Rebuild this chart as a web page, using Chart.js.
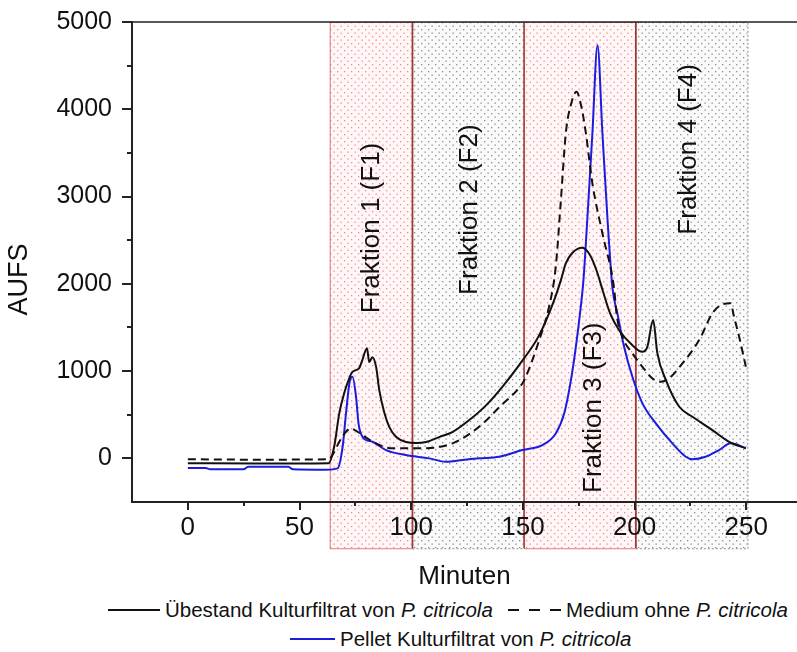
<!DOCTYPE html>
<html>
<head>
<meta charset="utf-8">
<script src="https://cdn.jsdelivr.net/npm/chart.js@4.4.1/dist/chart.umd.min.js"></script>
<style>
  html, body { margin: 0; padding: 0; background: #fff; }
  #wrap { position: relative; width: 797px; height: 652px; overflow: hidden; }
  #chart { display: block; }
  .item { position: absolute; display: flex; align-items: center; white-space: nowrap;
          font: 20.5px "Liberation Sans", Arial, sans-serif; color: #111; line-height: 24px; }
  .swatch { display: inline-block; height: 2px; margin-right: 5px; }
</style>
</head>
<body>
<div id="wrap">
  <canvas id="chart" width="797" height="595"></canvas>
  <div class="item" style="left:108px; top:598px;"><span class="swatch" style="width:52px; background:#111;"></span>Übestand Kulturfiltrat von&nbsp;<i>P. citricola</i></div>
  <div class="item" style="left:508px; top:598px;"><span class="swatch" style="width:53px; background:repeating-linear-gradient(90deg,#111 0 11px,transparent 11px 21px);"></span>Medium ohne&nbsp;<i>P. citricola</i></div>
  <div class="item" style="left:290px; top:627px;"><span class="swatch" style="width:45px; background:#1c1ce0;"></span>Pellet Kulturfiltrat von&nbsp;<i>P. citricola</i></div>
</div>
<script>
// Übestand Kulturfiltrat (black solid)
const ubX = [0, 30, 63, 65.5, 67.8, 70, 72.3, 73.6, 76.7, 78.1, 80.2, 81.2, 82.6, 84.3, 85.7, 88, 90.2, 93.3, 97.8, 102.2, 106.7, 112.5, 118.4, 126, 133.6, 140.7, 148.3, 157.3, 164, 167, 169.2, 172, 176.6, 180, 183, 186, 189, 193, 199, 203.4, 205.7, 208.3, 210.2, 214, 220, 225.9, 234.8, 242.3, 249.8];
const ubY = [-55, -60, -55, 133, 519, 748, 920, 988, 1034, 1126, 1263, 1103, 1160, 1046, 782, 519, 358, 244, 187, 175, 187, 244, 301, 439, 610, 817, 1069, 1412, 1813, 2042, 2234, 2350, 2412, 2330, 2150, 1900, 1664, 1470, 1297, 1221, 1278, 1584, 1203, 897, 591, 477, 324, 190, 115];

// Medium ohne P. citricola (black dashed)
const medX = [0, 30, 63, 65, 68, 71, 73, 75, 78.2, 84.2, 91.6, 103.6, 118.5, 130.4, 140, 148, 150.6, 157.3, 161.7, 164.7, 167, 169.2, 172, 174, 176, 178.2, 181.1, 185.6, 190.8, 192, 194.5, 199, 203.5, 208, 211.7, 215.4, 221.4, 228.9, 234.8, 238.6, 243, 244.5, 246.8, 249.8];
const medY = [-10, -15, -10, 50, 200, 310, 344, 320, 267, 172, 115, 115, 172, 362, 600, 800, 897, 1355, 1737, 2195, 2959, 3723, 4100, 4200, 4050, 3723, 3150, 2577, 1950, 1640, 1393, 1203, 1049, 916, 877, 916, 1088, 1355, 1661, 1756, 1776, 1622, 1393, 1049];

// Pellet Kulturfiltrat (blue)
const pelX = [0, 8, 10, 25, 27, 45, 47, 62, 67, 69.3, 70.8, 72.6, 73.7, 75.3, 76.4, 78.2, 82.7, 88.7, 97.6, 108, 115.5, 123, 130.4, 139.4, 149.8, 158.7, 164.7, 168.5, 171.5, 173.7, 175.9, 177.1, 178.9, 181.1, 183.4, 185.6, 187.8, 190.1, 192.3, 195.3, 199, 203.5, 209.5, 216.9, 222.9, 225.9, 231.8, 237.8, 243, 249.8];
const pelY = [-110, -110, -125, -125, -95, -95, -125, -130, -115, 133, 516, 897, 935, 706, 401, 247, 190, 95, 38, 0, -39, -19, 0, 18, 95, 152, 286, 516, 897, 1278, 1737, 2042, 2768, 3723, 4734, 3723, 2768, 1950, 1661, 1278, 935, 630, 401, 172, 18, -11, 18, 95, 172, 118];

// Fraktionen (Minuten)
const fracStart = [63.5, 100.5, 150.5, 200.5];
const fracEnd = [100.5, 150.5, 200.5, 250.5];
const fracLabels = ["Fraktion 1 (F1)", "Fraktion 2 (F2)", "Fraktion 3 (F3)", "Fraktion 4 (F4)"];

// tick labels
const xTicks = [0, 25, 50, 75, 100, 125, 150, 175, 200, 225, 250];
const yTicks = [0, 500, 1000, 1500, 2000, 2500, 3000, 3500, 4000, 4500, 5000];

const FONT = "'Liberation Sans', Arial, sans-serif";
Chart.defaults.font.family = FONT;
Chart.defaults.color = "#111";

function pts(xs, ys) {
  return xs.map((x, i) => ({ x: x, y: ys[i] }));
}

function dotPattern(bg, dot) {
  const c = document.createElement("canvas");
  c.width = 7; c.height = 7;
  const g = c.getContext("2d");
  g.fillStyle = bg;
  g.fillRect(0, 0, 7, 7);
  g.fillStyle = dot;
  g.fillRect(1, 1, 1.3, 1.3);
  g.fillRect(4.5, 4.5, 1.3, 1.3);
  return c;
}

// label anchor for each fraction: [minutes, AUFS]
const labelAt = [[82.2, 2640], [126.4, 2850], [181.9, 580], [224.4, 3540]];

const fractions = {
  id: "fractions",
  beforeDraw(chart) {
    const { ctx, scales: { x, y } } = chart;
    ctx.save();
    ctx.fillStyle = "#fff";
    ctx.fillRect(0, 0, chart.width, chart.height);
    const top = y.getPixelForValue(5000);
    const bot = y.getPixelForValue(-1030);
    const red = ctx.createPattern(dotPattern("#fff7f7", "rgba(232,95,95,0.7)"), "repeat");
    const gray = ctx.createPattern(dotPattern("#fafafa", "rgba(95,95,95,0.7)"), "repeat");
    // gray ones first, red ones on top
    [1, 3, 0, 2].forEach(i => {
      const l = x.getPixelForValue(fracStart[i]);
      const r = x.getPixelForValue(fracEnd[i]);
      const isRed = i % 2 === 0;
      ctx.fillStyle = isRed ? red : gray;
      ctx.fillRect(l, top, r - l, bot - top);
      ctx.lineWidth = 1;
      if (isRed) {
        ctx.setLineDash([]);
        ctx.strokeStyle = "rgba(215,90,90,0.8)";
      } else {
        ctx.setLineDash([2, 2]);
        ctx.strokeStyle = "rgba(110,110,110,0.8)";
      }
      ctx.strokeRect(l + 0.5, top + 0.5, r - l, bot - top);
    });
    ctx.setLineDash([]);
    // darker boundaries between fractions
    ctx.strokeStyle = "#9c3a3a";
    ctx.lineWidth = 1.5;
    [fracEnd[0], fracEnd[1], fracEnd[2]].forEach(v => {
      const px = x.getPixelForValue(v);
      ctx.beginPath();
      ctx.moveTo(px, top);
      ctx.lineTo(px, bot);
      ctx.stroke();
    });
    ctx.restore();
  },
  afterDatasetsDraw(chart) {
    const { ctx, scales: { x, y } } = chart;
    ctx.save();
    ctx.font = "26px " + FONT;
    ctx.fillStyle = "#111";
    ctx.textAlign = "center";
    ctx.textBaseline = "middle";
    fracLabels.forEach((t, i) => {
      ctx.save();
      ctx.translate(x.getPixelForValue(labelAt[i][0]), y.getPixelForValue(labelAt[i][1]));
      ctx.rotate(-Math.PI / 2);
      ctx.fillText(t, 0, 0);
      ctx.restore();
    });
    ctx.restore();
  },
  afterDraw(chart) {
    const { ctx, chartArea: a, scales: { x, y } } = chart;
    ctx.save();
    ctx.strokeStyle = "#222";
    ctx.lineWidth = 1.5;
    ctx.beginPath();
    ctx.moveTo(a.left, a.top);
    ctx.lineTo(a.right, a.top);
    ctx.stroke();
    ctx.lineWidth = 2;
    xTicks.forEach(v => {
      const px = Math.round(x.getPixelForValue(v));
      const len = v % 50 === 0 ? 8 : 4;
      ctx.beginPath();
      ctx.moveTo(px, a.bottom);
      ctx.lineTo(px, a.bottom + len);
      ctx.stroke();
    });
    yTicks.forEach(v => {
      const py = Math.round(y.getPixelForValue(v));
      const len = v % 1000 === 0 ? 10 : 5;
      ctx.beginPath();
      ctx.moveTo(a.left, py);
      ctx.lineTo(a.left - len, py);
      ctx.stroke();
    });
    // y axis title, sitting a little below the middle as in the original
    ctx.font = "27px " + FONT;
    ctx.fillStyle = "#111";
    ctx.textAlign = "center";
    ctx.textBaseline = "middle";
    ctx.translate(20, y.getPixelForValue(2050));
    ctx.rotate(-Math.PI / 2);
    ctx.fillText("AUFS", 0, 0);
    ctx.restore();
  }
};

new Chart(document.getElementById("chart"), {
  type: "line",
  data: {
    datasets: [
      { label: "Übestand Kulturfiltrat von P. citricola", data: pts(ubX, ubY), borderColor: "#111", borderWidth: 2 },
      { label: "Medium ohne P. citricola", data: pts(medX, medY), borderColor: "#111", borderWidth: 2, borderDash: [8, 5] },
      { label: "Pellet Kulturfiltrat von P. citricola", data: pts(pelX, pelY), borderColor: "#1c1ce0", borderWidth: 2 }
    ]
  },
  options: {
    responsive: false,
    animation: false,
    devicePixelRatio: 1,
    layout: { padding: { top: 22, right: 0, bottom: 0, left: 0 } },
    elements: { point: { radius: 0 }, line: { cubicInterpolationMode: "monotone", fill: false } },
    plugins: { legend: { display: false }, tooltip: { enabled: false } },
    scales: {
      x: {
        type: "linear",
        min: -25,
        max: 272.7,
        afterBuildTicks: s => { s.ticks = xTicks.map(v => ({ value: v })); },
        afterFit: s => { s.height = 93; s.paddingLeft = 0; s.paddingRight = 0; },
        grid: { display: true, drawOnChartArea: false, drawTicks: false },
        border: { display: true, color: "#222", width: 2 },
        ticks: { font: { size: 26 }, padding: 10, maxRotation: 0, autoSkip: false,
                 callback: v => (v % 50 === 0 ? String(v) : "") },
        title: { display: true, text: "Minuten", font: { size: 26 }, padding: { top: 0, bottom: 3 } }
      },
      y: {
        type: "linear",
        min: -500,
        max: 5000,
        afterBuildTicks: s => { s.ticks = yTicks.map(v => ({ value: v })); },
        afterFit: s => { s.width = 132; s.paddingTop = 0; s.paddingBottom = 0; },
        grid: { display: true, drawOnChartArea: false, drawTicks: false },
        border: { display: true, color: "#222", width: 2 },
        ticks: { font: { size: 25 }, padding: 20, autoSkip: false,
                 callback: v => (v % 1000 === 0 ? String(v) : "") },
        title: { display: false }
      }
    }
  },
  plugins: [fractions]
});
</script>
</body>
</html>
